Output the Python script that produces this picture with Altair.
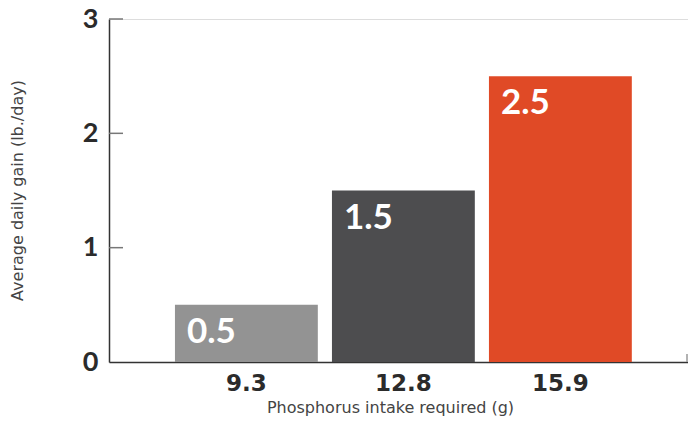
import altair as alt
import pandas as pd

categories = ["9.3", "12.8", "15.9"]
values = [0.5, 1.5, 2.5]
labels = ["0.5", "1.5", "2.5"]
colors = ["#939393", "#4d4d4f", "#e04a26"]
tick_values = [1, 2, 3]

df = pd.DataFrame({"cat": categories, "val": values, "lab": labels, "col": colors})
ticks_df = pd.DataFrame({"v": tick_values})

FONT = "Lato"
TITLE_FONT = "DejaVu Sans"

x_enc = alt.X(
    "cat:N",
    sort=categories,
    scale=alt.Scale(paddingInner=0.09, paddingOuter=0.389, align=0.54),
    axis=alt.Axis(
        title="Phosphorus intake required (g)",
        labelAngle=0,
        labelFont="DejaVu Sans",
        labelFontSize=23,
        labelFontWeight="bold",
        labelColor="#2b2b2b",
        labelPadding=10,
        ticks=False,
        domainColor="#333333",
        domainWidth=1.5,
        titleFont=TITLE_FONT,
        titleFontSize=16,
        titleFontWeight="normal",
        titleColor="#444444",
        titleX=281,
        titleY=50,
        titleAlign="center",
        titleBaseline="alphabetic",
    ),
)

y_scale = alt.Scale(domain=[0, 3], nice=False)

bars = alt.Chart(df).mark_bar().encode(
    x=x_enc,
    y=alt.Y(
        "val:Q",
        scale=y_scale,
        axis=alt.Axis(
            title="Average daily gain (lb./day)",
            values=[0, 1, 2, 3],
            format="d",
            grid=False,
            ticks=False,
            labelFont=FONT,
            labelFontSize=27,
            labelFontWeight="bold",
            labelColor="#2b2b2b",
            labelPadding=11,
            domainColor="#333333",
            domainWidth=1.5,
            titleFont=TITLE_FONT,
            titleFontSize=16,
            titleFontWeight="normal",
            titleColor="#444444",
            titleX=-87,
            titleY=171,
            titleBaseline="alphabetic",
            titleAlign="center",
        ),
    ),
    color=alt.Color("col:N", scale=None),
)

text = alt.Chart(df).mark_text(
    align="left", baseline="alphabetic", dx=12, dy=38,
    font=FONT, fontSize=35, fontWeight="bold", color="white"
).encode(
    x=alt.X("cat:N", sort=categories, bandPosition=0),
    y=alt.Y("val:Q", scale=y_scale),
    text="lab:N",
)

ticks = alt.Chart(ticks_df).mark_rule(color="#777777", strokeWidth=1.5).encode(
    y=alt.Y("v:Q", scale=y_scale),
    x=alt.value(0),
    x2=alt.value(14),
)

end_tick = alt.Chart(ticks_df.head(1)).mark_rule(color="#999999", strokeWidth=1.5).encode(
    x=alt.value(578),
    y=alt.value(335),
    y2=alt.value(343),
)

chart = alt.layer(bars, text, ticks, end_tick).properties(
    width=579,
    height=343,
    autosize=alt.AutoSizeParams(type="none"),
    padding={"left": 101, "top": 11, "right": 0, "bottom": 55},
).configure_view(stroke=None).configure(background="white")

chart.save("out.html", embed_options={"renderer": "svg", "actions": False})
